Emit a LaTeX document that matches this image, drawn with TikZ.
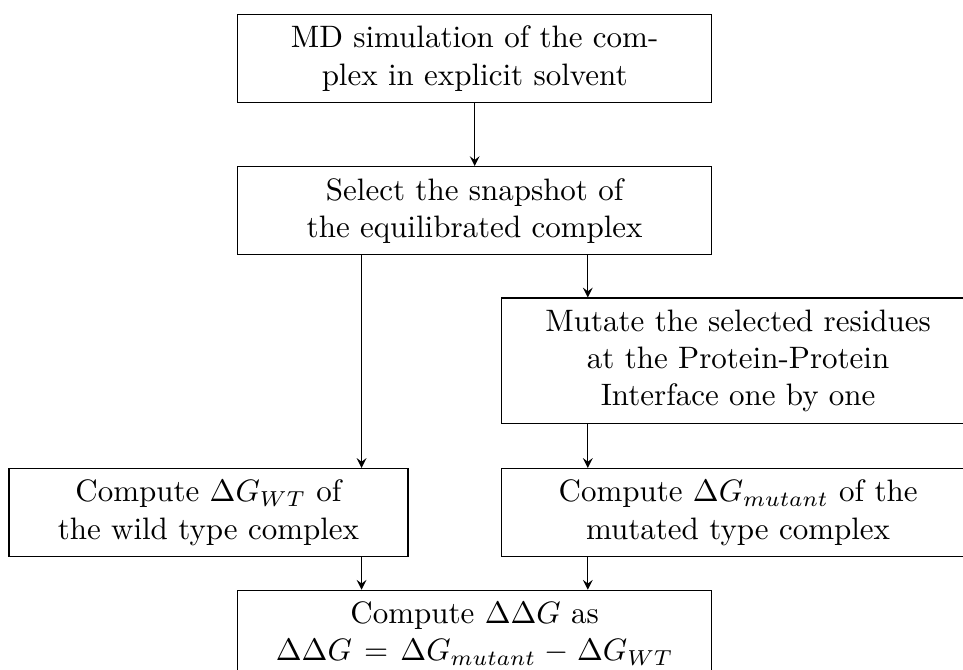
\documentclass[tikz,border=0pt]{standalone}
\usepackage{amsmath, amssymb}
\usepackage{tikz}
\usetikzlibrary{positioning,arrows}

\begin{document}
\begin{tikzpicture}[
            block/.style={rectangle, draw=black, inner xsep=4pt, inner ysep=3.7pt, text width=144.9pt, align=center},
            narrow/.style={block, text width=120.7pt},
            >=stealth,
            auto
        ]

        %frame
        \useasboundingbox (-76.5pt,4.5pt) rectangle (234.2pt,-211.6pt);

        %blocks
        \node[block, anchor=north west] (md) at (0,0)      {MD simulation of the complex in explicit solvent};
        \node[block]    (snap)  [below=20.3pt of md]       {Select the snapshot of the equilibrated complex};
        \node[block]    (mut)   [below=13.6pt of snap, xshift=85pt] {Mutate the selected residues at the Protein-Protein Interface one by one};
        \node[block]    (dgmut) [below=14.2pt of mut]      {Compute $\Delta G_{mutant}$ of the mutated type complex};
        \node[narrow]   (dgwt)  [left=29.7pt of dgmut]     {Compute $\Delta G_{WT}$ of the wild type complex};

        %split coordinates
        \coordinate     (lsplit) at ([xshift=-36.5pt]snap.south);
        \coordinate     (rsplit) at ([xshift=36.5pt]snap.south);
        \coordinate     (ddgtop) at (snap |- dgmut.south);

        \node[block]    (ddg)   [below=10.4pt of ddgtop]   {Compute $\Delta\Delta G$ as\\ $\Delta\Delta G = \Delta G_{mutant} - \Delta G_{WT}$};

        %arrows
        \draw[->]   (md) -- (snap);
        \draw[->]   (lsplit) -- (lsplit |- dgwt.north);
        \draw[->]   (rsplit) -- (rsplit |- mut.north);
        \draw[->]   (mut.south -| rsplit) -- (rsplit |- dgmut.north);
        \draw[->]   (dgwt.south -| lsplit) -- (lsplit |- ddg.north);
        \draw[->]   (dgmut.south -| rsplit) -- (rsplit |- ddg.north);

        \end{tikzpicture}
\end{document}
